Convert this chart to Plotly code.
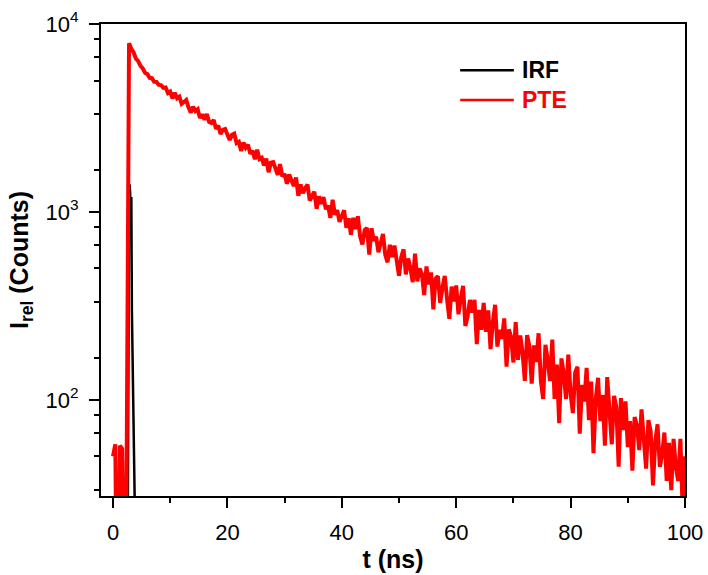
import numpy as np
import plotly.graph_objects as go

# --- data -------------------------------------------------------------
# PTE decay: TCSPC channel grid (start 0 ns, 0.4 ns per channel)
channel_start = 0.0
channel_width = 0.4
pte_counts = [
    50, 58, 3, 57, 55, 4, 52,
    7900, 7380, 7060, 6540, 6350, 5980, 5810, 5500, 5420, 5170, 5150, 4930, 4920, 4740, 4730, 4570,
    4592, 4293, 4372, 4018, 4312, 4028, 4106, 3756, 3848, 3938, 3600, 3375, 3628, 3443, 3520, 3158, 3304, 3094, 3316, 3014,
    2973, 3083, 2769, 2879, 2596, 2735, 2760, 2546, 2415, 2571, 2607, 2326, 2363, 2111, 2343, 2196, 2279, 2036, 2118, 1908,
    2142, 1911, 1941, 1765, 1922, 1626, 1827, 1839, 1672, 1573, 1796, 1545, 1594, 1412, 1582, 1483, 1375, 1526, 1218, 1401,
    1258, 1338, 1399, 1150, 1221, 1281, 1039, 1209, 1102, 1199, 1035, 1080, 928, 1159, 965, 1023, 885, 963, 1019, 823,
    926, 756, 930, 811, 948, 740, 672, 800, 821, 592, 818, 702, 737, 610, 680, 763, 591, 539, 668, 575,
    662, 538, 457, 576, 632, 465, 565, 499, 423, 600, 427, 500, 467, 361, 512, 412, 476, 303, 442, 455,
    328, 396, 456, 344, 270, 400, 334, 406, 285, 347, 404, 247, 279, 340, 291, 340, 198, 301, 236, 328,
    230, 299, 186, 259, 320, 192, 236, 211, 271, 150, 237, 216, 158, 259, 163, 220, 178, 126, 221, 192,
    122, 195, 159, 226, 126, 101, 196, 163, 126, 209, 101, 154, 75, 166, 138, 101, 174, 107, 85, 140,
    150, 66, 120, 98, 148, 78, 125, 52, 101, 131, 77, 106, 57, 132, 82, 58, 105, 91, 44, 102,
    69, 98, 56, 77, 42, 81, 73, 54, 89, 58, 43, 78, 68, 35, 60, 74, 44, 51, 67, 37,
    59, 33, 62, 44, 37, 62, 25, 50,
]
pte_time = np.round(channel_start + channel_width * np.arange(len(pte_counts)), 2)

# Instrument response function
irf_time = [2.0, 2.2, 2.4, 2.5, 2.6, 2.7, 2.8, 2.9, 3.0, 3.1, 3.2, 3.3, 3.4, 3.5, 3.6, 3.7, 3.8, 4.0, 4.5]
irf_counts = [1, 1, 40, 1, 30, 300, 1000, 1400, 1250, 900, 1200, 300, 85, 88, 20, 1, 1, 1, 1]

series_names = ["IRF", "PTE"]
series_colors = ["#000000", "#ff0000"]

x_tick_vals = [0, 20, 40, 60, 80, 100]
x_minor_vals = [10, 30, 50, 70, 90]
y_tick_vals = [100, 1000, 10000]
y_tick_text = ["10<sup>2</sup>", "10<sup>3</sup>", "10<sup>4</sup>"]
y_minor_vals = [33.3, 50, 66.7, 83.3,
                166.7, 333.3, 500, 666.7, 833.3,
                1666.7, 3333.3, 5000, 6666.7, 8333.3]

# --- figure -----------------------------------------------------------
FONT = "Liberation Sans, Arial, sans-serif"

fig = go.Figure()
fig.add_trace(go.Scatter(
    x=irf_time, y=irf_counts, mode="lines", name=series_names[0],
    line=dict(color=series_colors[0], width=2.5), showlegend=False,
))
fig.add_trace(go.Scatter(
    x=pte_time, y=pte_counts, mode="lines", name=series_names[1],
    line=dict(color=series_colors[1], width=4), showlegend=False,
))

# legend drawn as line samples + labels (paper coordinates)
legend_y = [0.902, 0.839]
for name, color, ly in zip(series_names, series_colors, legend_y):
    fig.add_shape(type="line", xref="paper", yref="paper",
                  x0=0.615, x1=0.707, y0=ly, y1=ly,
                  line=dict(color=color, width=2.5))
    fig.add_annotation(xref="paper", yref="paper", x=0.718, y=ly,
                       xanchor="left", yanchor="middle", showarrow=False,
                       text=f"<b>{name}</b>",
                       font=dict(size=23, family=FONT, color=color))

fig.update_layout(
    width=708, height=575,
    margin=dict(l=101, r=23, t=24, b=79, autoexpand=False),
    paper_bgcolor="white", plot_bgcolor="white",
    font=dict(family=FONT, size=21, color="black"),
    showlegend=False,
)

fig.update_xaxes(
    range=[-2.1, 100], tickvals=x_tick_vals, automargin=False,
    minor=dict(tickvals=x_minor_vals, ticks="outside", ticklen=5, tickwidth=2, tickcolor="black"),
    ticks="outside", ticklen=10, tickwidth=2, tickcolor="black",
    showline=True, linewidth=2, linecolor="black", mirror=True,
    showgrid=False, zeroline=False,
    tickfont=dict(size=22, family=FONT), ticklabelstandoff=6,
    title=dict(text="<b>t (ns)</b>", font=dict(size=25, family=FONT), standoff=6),
)
fig.update_yaxes(
    type="log", range=[1.488, 4.0], automargin=False,
    tickvals=y_tick_vals, ticktext=y_tick_text,
    minor=dict(tickvals=y_minor_vals, ticks="outside", ticklen=5, tickwidth=2,
               tickcolor="black", showgrid=False),
    ticks="outside", ticklen=10, tickwidth=2, tickcolor="black",
    showline=True, linewidth=2, linecolor="black", mirror=True,
    showgrid=False, zeroline=False,
    tickfont=dict(size=22, family=FONT), ticklabelstandoff=6,
    title=dict(text="<b>I<sub>rel</sub> (Counts)</b>", font=dict(size=25, family=FONT), standoff=10),
)

fig.write_html("out.html")
